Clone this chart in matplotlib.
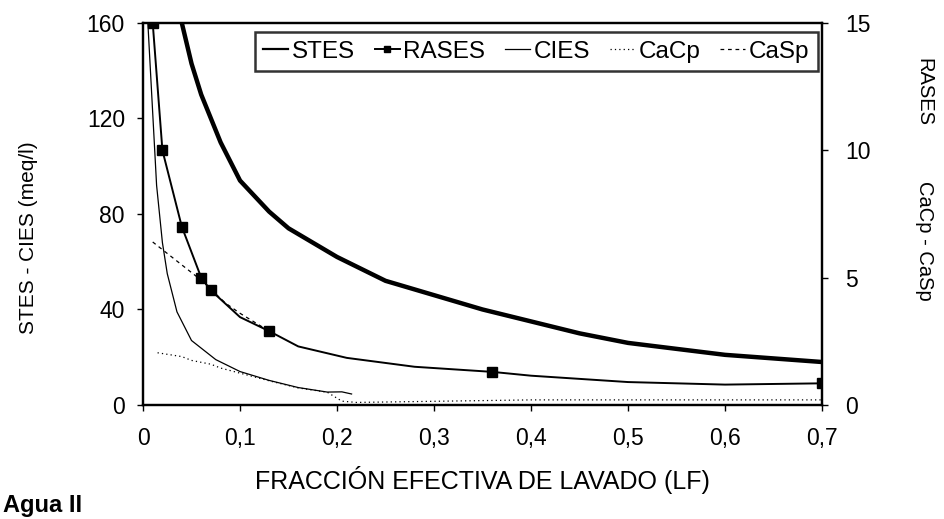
import matplotlib
matplotlib.use("Agg")
from matplotlib import pyplot as plt

plt.rcParams['font.family'] = ['Liberation Sans', 'DejaVu Sans']

# STES (meq/l), left axis
stes_lf = [0.04, 0.05, 0.06, 0.08, 0.10, 0.13, 0.15, 0.20, 0.25, 0.30, 0.35, 0.40, 0.45, 0.50, 0.60, 0.70]
stes = [160, 143, 130, 110, 94, 81, 74, 62, 52, 46, 40, 35, 30, 26, 21, 18]

# RASES, right axis (markers on the measured points)
rases_lf = [0.01, 0.02, 0.04, 0.06, 0.07, 0.10, 0.13, 0.16, 0.21, 0.28, 0.36, 0.40, 0.50, 0.60, 0.70]
rases = [15.0, 10.0, 7.0, 5.0, 4.5, 3.45, 2.9, 2.3, 1.85, 1.5, 1.3, 1.15, 0.9, 0.8, 0.85]
rases_marks = [0, 1, 2, 3, 4, 6, 10, 14]

# CIES (meq/l), left axis
cies_lf = [0.005, 0.014, 0.02, 0.025, 0.035, 0.05, 0.075, 0.10, 0.13, 0.16, 0.19, 0.205, 0.215]
cies = [160, 92, 68, 55, 39, 27, 19, 14, 10.3, 7.3, 5.4, 5.5, 4.6]

# CaCp, right axis
cacp_lf = [0.015, 0.04, 0.05, 0.07, 0.08, 0.10, 0.13, 0.16, 0.19, 0.205, 0.22, 0.40, 0.70]
cacp = [2.05, 1.9, 1.75, 1.6, 1.45, 1.25, 0.95, 0.67, 0.5, 0.15, 0.1, 0.2, 0.2]

# CaSp, right axis
casp_lf = [0.01, 0.04, 0.06, 0.085, 0.10, 0.13]
casp = [6.4, 5.5, 4.9, 4.0, 3.6, 2.9]

fig = plt.figure(figsize=(9.44, 5.19), dpi=100)
ax = fig.add_axes([0.1515, 0.2197, 0.7193, 0.7360])
ax2 = ax.twinx()

l1, = ax.plot(stes_lf, stes, color='black', lw=3.2, label='STES')
l3, = ax.plot(cies_lf, cies, color='black', lw=0.9, label='CIES')
l2, = ax2.plot(rases_lf, rases, color='black', lw=1.4, marker='s', ms=7,
               markevery=rases_marks, label='RASES')
l4, = ax2.plot(cacp_lf, cacp, color='black', lw=0.9, ls=(0, (1, 2.5)), label='CaCp')
l5, = ax2.plot(casp_lf, casp, color='black', lw=0.9, ls=(0, (3, 3)), label='CaSp')

ax.set_xlim(0, 0.7)
ax.set_ylim(0, 160)
ax2.set_ylim(0, 15)
ax.set_xticks([0, 0.1, 0.2, 0.3, 0.4, 0.5, 0.6, 0.7])
ax.set_xticklabels(['0', '0,1', '0,2', '0,3', '0,4', '0,5', '0,6', '0,7'])
ax.set_yticks([0, 40, 80, 120, 160])
ax2.set_yticks([0, 5, 10, 15])

ax.tick_params(axis='both', direction='out', length=4, width=1, labelsize=16.5)
ax.tick_params(axis='y', pad=9)
ax.tick_params(axis='x', pad=12)
ax2.tick_params(axis='y', direction='out', length=4, width=1, labelsize=16.5, pad=12.5)
for a in (ax, ax2):
    for s in a.spines.values():
        s.set_linewidth(1.6)

ax.set_ylabel('STES - CIES (meq/l)', fontsize=15, va='center')
ax.yaxis.set_label_coords(-0.169, 0.437)
ax.set_xlabel('FRACCIÓN EFECTIVA DE LAVADO (LF)', fontsize=18, va='center')
ax.xaxis.set_label_coords(0.5, -0.197)

fig.text(0.979, 0.823, 'RASES', rotation=270, fontsize=14.5, ha='center', va='center')
fig.text(0.979, 0.536, 'CaCp - CaSp', rotation=270, fontsize=14.5, ha='center', va='center')
fig.text(0.003, 0.004, 'Agua II', fontsize=17, fontweight='bold', ha='left', va='bottom')

leg = ax.legend([l1, l2, l3, l4, l5], ['STES', 'RASES', 'CIES', 'CaCp', 'CaSp'],
                loc='upper right', bbox_to_anchor=(0.994, 0.976), ncol=5,
                fontsize=17.5, handlelength=1.03, handletextpad=0.16,
                columnspacing=0.8, borderpad=0.35, borderaxespad=0,
                frameon=True, fancybox=False, edgecolor='black', markerscale=0.7)
leg.get_frame().set_linewidth(1.8)
leg.get_lines()[0].set_linewidth(1.6)

fig.savefig('out.png', dpi=100)
